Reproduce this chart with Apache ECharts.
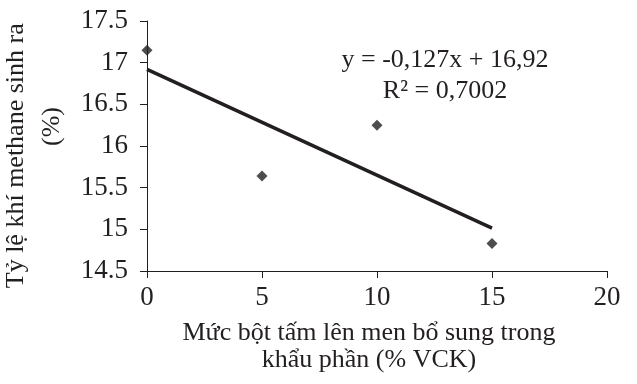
<!DOCTYPE html>
<html><head><meta charset="utf-8">
<script src="https://cdn.jsdelivr.net/npm/echarts@6/dist/echarts.min.js"></script>
<style>html,body{margin:0;padding:0;background:#fff}#c{width:637px;height:384px}</style>
</head><body><div id="c"></div>
<script>
const xValues = [0, 5, 10, 15];
const yValues = [17.15, 15.64, 16.25, 14.83];
const trendX = [0, 15];
const slope = -0.127, intercept = 16.92;
const equationText = 'y = -0,127x + 16,92';
const r2Text = 'R² = 0,7002';
const xTitle = 'Mức bột tấm lên men bổ sung trong\nkhẩu phần (% VCK)';
const yTitle = 'Tỷ lệ khí methane sinh ra\u00a0\u00a0\u00a0\n\u00a0\u00a0\u00a0\u00a0\u00a0\u00a0(%)';

const FONT = 'Liberation Serif';
const chart = echarts.init(document.getElementById('c'), null, {renderer: 'canvas'});
const scatterData = xValues.map((x, i) => [x, yValues[i]]);
const trendData = trendX.map(x => [x, +(intercept + slope * x).toFixed(4)]);
chart.setOption({
  animation: false,
  backgroundColor: '#fff',
  textStyle: {fontFamily: FONT, color: '#231f20'},
  grid: {left: 147, right: 30, top: 21, bottom: 113, containLabel: false, outerBoundsMode: 'none'},
  title: {
    text: equationText + '\n' + r2Text,
    left: 440, top: 40, textAlign: 'center',
    textStyle: {fontFamily: FONT, fontSize: 26, fontWeight: 'normal', color: '#231f20', lineHeight: 31, align: 'center'}
  },
  xAxis: {
    type: 'value', min: 0, max: 20, interval: 5,
    name: xTitle, nameLocation: 'middle', nameGap: 49,
    nameTextStyle: {fontFamily: FONT, fontSize: 26, color: '#231f20', lineHeight: 27, padding: [0, 16, 0, 0]},
    axisLine: {onZero: false, lineStyle: {color: '#231f20', width: 1}},
    axisTick: {show: true, length: 7, inside: false, lineStyle: {color: '#231f20'}},
    axisLabel: {fontFamily: FONT, fontSize: 27, color: '#231f20', margin: 13},
    splitLine: {show: false}
  },
  yAxis: {
    type: 'value', min: 14.5, max: 17.5, interval: 0.5,
    name: yTitle, nameLocation: 'middle', nameGap: 61, nameRotate: 90,
    nameTextStyle: {fontFamily: FONT, fontSize: 26, color: '#231f20', lineHeight: 36},
    axisLine: {show: true, lineStyle: {color: '#231f20', width: 1}},
    axisTick: {show: true, length: 7, lineStyle: {color: '#231f20'}},
    axisLabel: {fontFamily: FONT, fontSize: 27, color: '#231f20', margin: 19, formatter: v => String(v)},
    splitLine: {show: false}
  },
  series: [
    {type: 'line', data: trendData, symbol: 'none', lineStyle: {color: '#231f20', width: 3.5}, z: 2},
    {type: 'scatter', data: scatterData, symbol: 'diamond', symbolSize: 11, itemStyle: {color: '#231f20'}, z: 3}
  ]
});
</script></body></html>
